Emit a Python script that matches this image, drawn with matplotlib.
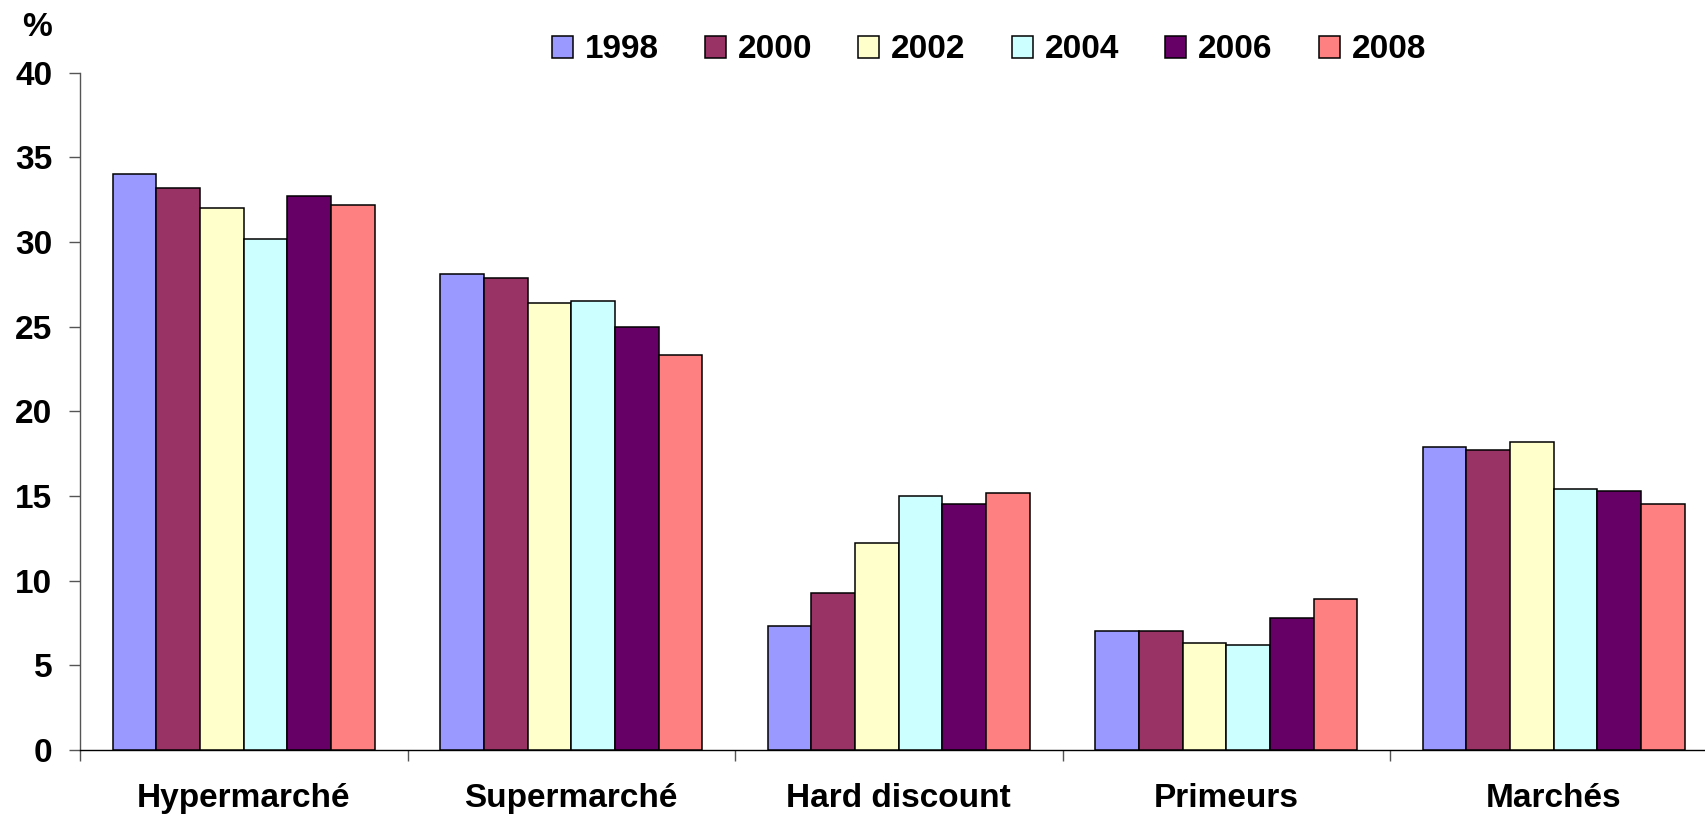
import matplotlib
matplotlib.use('Agg')
import matplotlib.pyplot as plt
import numpy as np

# ---------- Data ----------
categories = ["Hypermarché", "Supermarché", "Hard discount", "Primeurs", "Marchés"]
years = ["1998", "2000", "2002", "2004", "2006", "2008"]
colors = ["#9999FF", "#993366", "#FFFFCC", "#CCFFFF", "#660066", "#FF8080"]

v1998 = [34.0, 28.1, 7.3, 7.0, 17.9]
v2000 = [33.2, 27.9, 9.3, 7.0, 17.7]
v2002 = [32.0, 26.4, 12.2, 6.3, 18.2]
v2004 = [30.2, 26.5, 15.0, 6.2, 15.4]
v2006 = [32.7, 25.0, 14.5, 7.8, 15.3]
v2008 = [32.2, 23.3, 15.2, 8.9, 14.5]
series = [v1998, v2000, v2002, v2004, v2006, v2008]

# ---------- Figure ----------
plt.rcParams['font.family'] = ['Liberation Sans', 'DejaVu Sans']
plt.rcParams['font.weight'] = 'bold'

W, H = 1706, 816
fig = plt.figure(figsize=(W / 100, H / 100), dpi=100)
left, right = 80, 1717.5
y_zero, y_top = 750, 72.7
ax = fig.add_axes([left / W, (H - y_zero) / H, (right - left) / W, (y_zero - y_top) / H])

n = len(years)
bw = 0.8 / n
x = np.arange(len(categories))
for i, (yr, vals, c) in enumerate(zip(years, series, colors)):
    ax.bar(x - 0.4 + bw * (i + 0.5), vals, width=bw, color=c, edgecolor='black',
           linewidth=1.1, label=yr, zorder=3)

ax.set_xlim(-0.5, len(categories) - 0.5)
ax.set_ylim(0, 40)
ax.set_yticks(np.arange(0, 41, 5))
ax.tick_params(axis='y', direction='out', length=8, width=1, color='#555555',
               labelsize=24, pad=12)

# category boundaries as major ticks, names on minor ticks
ax.set_xticks(np.arange(-0.5, len(categories), 1.0))
ax.set_xticklabels([])
ax.tick_params(axis='x', which='major', direction='out', length=8, width=1, color='#555555')
ax.set_xticks(x, minor=True)
ax.set_xticklabels(categories, minor=True, fontsize=24, fontweight='bold')
ax.tick_params(axis='x', which='minor', length=0, pad=24)

for s in ['top', 'right']:
    ax.spines[s].set_visible(False)
ax.spines['left'].set_color('#555555')
ax.spines['bottom'].set_color('black')
ax.spines['left'].set_linewidth(1)
ax.spines['bottom'].set_linewidth(1)

fig.text(37 / W, 1 - 28 / H, "%", fontsize=24, fontweight='bold', ha='center', va='center')

leg = fig.legend(loc='center', bbox_to_anchor=(989 / W, 1 - 50 / H), ncol=6, frameon=False,
                 fontsize=24, handlelength=0.63, handleheight=0.63, handletextpad=0.36,
                 columnspacing=1.38, borderpad=0)

fig.savefig('out.png', dpi=100)
